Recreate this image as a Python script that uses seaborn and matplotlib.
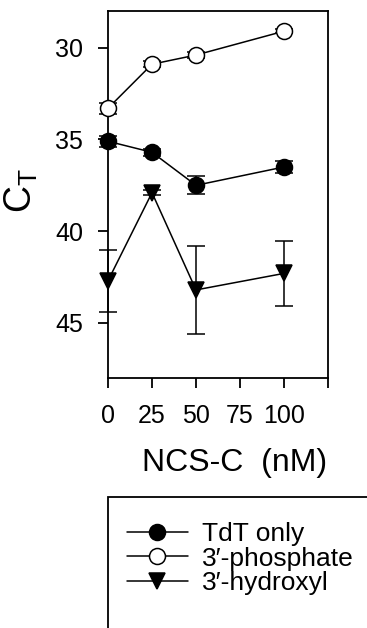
import numpy as np
import pandas as pd
import seaborn as sns
import matplotlib.pyplot as plt
from matplotlib.patches import Rectangle

# NCS-C concentration (nM)
conc = [0, 25, 50, 100]

tdt_only = [35.1, 35.7, 37.5, 36.5]
tdt_err = [0.3, 0.2, 0.5, 0.35]

phosphate = [33.3, 30.9, 30.4, 29.1]
phosphate_err = [0.3, 0.15, 0.15, 0.1]

hydroxyl = [42.7, 37.9, 43.2, 42.3]
hydroxyl_err = [1.7, 0.15, 2.4, 1.75]

labels = ["TdT only", "3\u2032-phosphate", "3\u2032-hydroxyl"]

sns.set_style("ticks")
plt.rcParams['font.family'] = ['Liberation Sans', 'DejaVu Sans']
plt.rcParams['mathtext.default'] = 'regular'
plt.rcParams['text.color'] = 'black'
plt.rcParams['axes.labelcolor'] = 'black'

df = pd.DataFrame({
    "conc": conc * 3,
    "ct": tdt_only + phosphate + hydroxyl,
    "err": tdt_err + phosphate_err + hydroxyl_err,
    "sample": [labels[0]] * 4 + [labels[1]] * 4 + [labels[2]] * 4,
})

fig = plt.figure(figsize=(3.67, 6.28), dpi=100)
ax = fig.add_axes([108 / 367, 1 - 378 / 628, 220 / 367, 367 / 628])

styles = {
    labels[0]: dict(marker="o", mfc="black", ms=11.5),
    labels[1]: dict(marker="o", mfc="white", ms=11.5),
    labels[2]: dict(marker="v", mfc="black", ms=11.5),
}

for lab in labels:
    d = df[df["sample"] == lab]
    ax.errorbar(d["conc"], d["ct"], yerr=d["err"], fmt="none", ecolor="black",
                elinewidth=1.1, capsize=6.5, capthick=1.1, clip_on=False, zorder=3)
    sns.lineplot(data=d, x="conc", y="ct", ax=ax, color="black", lw=1.1,
                 mec="black", mew=1.1, clip_on=False, zorder=4, label=lab,
                 legend=False, **styles[lab])

ax.set_xlim(0, 125)
ax.set_ylim(48, 28)
ax.set_xticks([0, 25, 50, 75, 100, 125])
ax.set_xticklabels(["0", "25", "50", "75", "100", ""])
ax.set_yticks([30, 35, 40, 45])
for s in ax.spines.values():
    s.set_linewidth(1.3)
    s.set_color("black")
ax.tick_params(direction="out", length=7, width=1.3, colors="black", labelsize=18)
ax.tick_params(axis="y", pad=11)
ax.tick_params(axis="x", pad=12)

ax.set_xlabel("NCS-C  (nM)", fontsize=23)
ax.xaxis.set_label_coords(0.577, -0.19)
ax.set_ylabel("$C_T$", fontsize=27)
ax.yaxis.set_label_coords(-0.31, 0.51)

handles, _ = ax.get_legend_handles_labels()
handles = [h for h in handles if hasattr(h, "get_marker")]
fig.legend(handles=handles[:3], labels=labels, loc="upper left",
           bbox_to_anchor=(127 / 367, 1 - 522 / 628), frameon=False,
           fontsize=19, handlelength=2.3, handletextpad=0.55, labelspacing=0.02,
           borderpad=0, borderaxespad=0)
fig.patches.append(Rectangle((108 / 367, -0.2), 1.0, 1 - 497 / 628 + 0.2,
                             transform=fig.transFigure, fill=False,
                             edgecolor="black", lw=1.3))

fig.savefig("out.png", dpi=100)
